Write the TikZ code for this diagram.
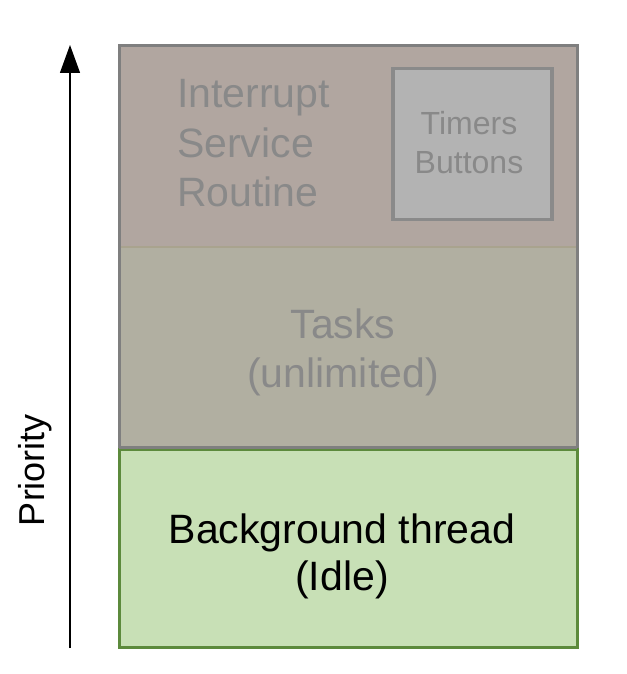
\documentclass[tikz,border=0pt]{standalone}
\usepackage{fontspec}
\setmainfont{Liberation Sans}
\usetikzlibrary{arrows.meta}
\definecolor{isrfill}{HTML}{B1A6A0}
\definecolor{taskfill}{HTML}{B1AFA1}
\definecolor{greenfill}{HTML}{C8E0B6}
\definecolor{greenline}{HTML}{5C8A3C}
\definecolor{boxline}{HTML}{7F7F7F}
\definecolor{sepline}{HTML}{A9A38E}
\definecolor{greytext}{HTML}{898989}
\definecolor{innerfill}{HTML}{B3B3B3}
\definecolor{innerline}{HTML}{8A8A8A}
\tikzset{
  bigtext/.style={font=\fontsize{41}{48}\selectfont, align=center, inner sep=0pt},
  smalltext/.style={font=\fontsize{32}{38}\selectfont, align=center, inner sep=0pt},
}
\begin{document}
\begin{tikzpicture}[x=1pt,y=-1pt]
\useasboundingbox[fill=white] (0,0) rectangle (626,674);
% bands
\fill[isrfill] (119,46) rectangle (577,247);
\fill[taskfill] (119,247) rectangle (577,447);
\draw[sepline, line width=2pt] (120,247) -- (576,247);
\draw[boxline, line width=3pt] (119,46) rectangle (577,447);
\draw[greenline, line width=3pt, fill=greenfill] (119,449) rectangle (577,647);
\draw[boxline, line width=3pt] (119,447) -- (577,447);
% inner box
\node[draw=innerline, fill=innerfill, line width=3.5pt, minimum width=159pt, minimum height=151pt, inner sep=0pt] (inner) at (472.5,144) {};
% texts
\node[bigtext, text=greytext, anchor=base west, align=left] (isr) at (177,108) {Interrupt};
\node[bigtext, text=greytext, anchor=base west] (isr2) at (177,157) {Service};
\node[bigtext, text=greytext, anchor=base west] (isr3) at (177,206) {Routine};
\node[smalltext, text=greytext, anchor=base] (tim) at (469,135) {Timers};
\node[smalltext, text=greytext, anchor=base] (but) at (469,173) {Buttons};
\node[bigtext, text=greytext, anchor=base] (t1) at (343,338) {Tasks};
\node[bigtext, text=greytext, anchor=base] (t2) at (343,387) {(unlimited)};
\node[bigtext, anchor=base] (b1) at (342,543) {Background thread};
\node[bigtext, anchor=base] (b2) at (342,590) {(Idle)};
% priority axis
\coordinate (pbot) at (70,648);
\coordinate (ptop) at (70,45);
\draw[line width=1.2pt, -{Triangle[length=28pt,width=20pt]}] (pbot) -- (ptop);
\node[font=\fontsize{36}{40}\selectfont, rotate=90, anchor=base, inner sep=0pt] (prio) at (44,470) {Priority};
\end{tikzpicture}
\end{document}
